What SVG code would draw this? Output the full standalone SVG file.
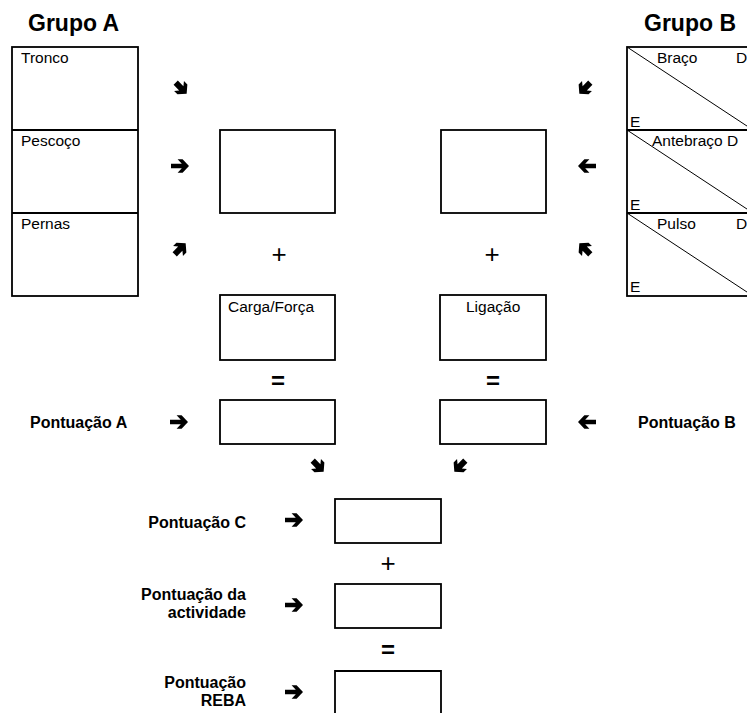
<svg xmlns="http://www.w3.org/2000/svg" width="747" height="713" viewBox="0 0 747 713">
<defs>
<style>
.box{fill:#fff;stroke:#000;stroke-width:1.8}
.ln{fill:none;stroke:#000;stroke-width:1}
.dv{fill:none;stroke:#000;stroke-width:1.8}
.t{font-family:"Liberation Sans",Arial,sans-serif;font-size:15.5px;fill:#000}
.h{font-family:"Liberation Sans",Arial,sans-serif;font-size:23px;font-weight:bold;fill:#000}
.b{font-family:"Liberation Sans",Arial,sans-serif;font-size:16px;font-weight:bold;fill:#000}
.op{font-family:"Liberation Sans",Arial,sans-serif;font-size:26px;fill:#000;text-anchor:middle}
.eq{font-family:"Liberation Sans",Arial,sans-serif;font-size:24px;font-weight:bold;fill:#000;text-anchor:middle}
.ar{fill:#000}
</style>
<path id="arr" class="ar" d="M-9,-2.2 H1.8 L-2.4,-6.8 H2.6 L9,0 L2.6,6.8 H-2.4 L1.8,2.2 H-9 Z"/>
<path id="darr" class="ar" d="M-7.5,-3 H0.4 L-2.8,-7 H2 L8,0 L2,7 H-2.8 L0.4,3 H-7.5 Z"/>
</defs>

<text class="h" x="28" y="31">Grupo A</text>
<text class="h" x="644" y="31">Grupo B</text>

<g id="grupoA">
<rect class="box" x="12" y="47" width="126" height="249"/>
<line class="dv" x1="12" y1="130" x2="138" y2="130"/>
<line class="dv" x1="12" y1="213" x2="138" y2="213"/>
<text class="t" x="21" y="63">Tronco</text>
<text class="t" x="21" y="146">Pescoço</text>
<text class="t" x="21" y="229">Pernas</text>
</g>

<g id="grupoB">
<rect class="box" x="627" y="47" width="126" height="249"/>
<line class="dv" x1="627" y1="130" x2="753" y2="130"/>
<line class="dv" x1="627" y1="213" x2="753" y2="213"/>
<line class="ln" x1="627" y1="47" x2="753" y2="130"/>
<line class="ln" x1="627" y1="130" x2="753" y2="213"/>
<line class="ln" x1="627" y1="213" x2="753" y2="296"/>
<text class="t" x="657" y="63">Braço</text>
<text class="t" x="736" y="63">D</text>
<text class="t" x="630" y="127">E</text>
<text class="t" x="652" y="146">Antebraço D</text>
<text class="t" x="630" y="210">E</text>
<text class="t" x="657" y="229">Pulso</text>
<text class="t" x="736" y="229">D</text>
<text class="t" x="630" y="292">E</text>
</g>

<g id="tabelaA"><rect class="box" x="220" y="130" width="115" height="83"/></g>
<g id="tabelaB"><rect class="box" x="441" y="130" width="105" height="83"/></g>

<g id="carga"><rect class="box" x="220" y="295" width="115" height="65"/><text class="t" x="228" y="312">Carga/Força</text></g>
<g id="ligacao"><rect class="box" x="440" y="295" width="106" height="65"/><text class="t" x="466" y="312">Ligação</text></g>

<g id="pontA"><rect class="box" x="220" y="400" width="115" height="44"/></g>
<g id="pontB"><rect class="box" x="440" y="400" width="106" height="44"/></g>

<g id="pontC"><rect class="box" x="335" y="499" width="106" height="44"/></g>
<g id="pontAct"><rect class="box" x="335" y="584" width="106" height="44"/></g>
<g id="pontREBA"><path class="box" d="M335,714 V671 H441 V714"/></g>

<g id="operators">
<text class="op" x="279" y="263">+</text>
<text class="op" x="492" y="263">+</text>
<text class="eq" x="278" y="389">=</text>
<text class="eq" x="493" y="389">=</text>
<text class="op" x="388" y="572">+</text>
<text class="eq" x="388" y="658">=</text>
</g>

<g id="labels">
<text class="b" x="30" y="428">Pontuação A</text>
<text class="b" x="638" y="428">Pontuação B</text>
<text class="b" x="246" y="528" text-anchor="end">Pontuação C</text>
<text class="b" x="246" y="600" text-anchor="end">Pontuação da</text>
<text class="b" x="246" y="618" text-anchor="end">actividade</text>
<text class="b" x="246" y="688" text-anchor="end">Pontuação</text>
<text class="b" x="246" y="706" text-anchor="end">REBA</text>
</g>

<g id="connectors">
<use href="#darr" transform="translate(181,88) rotate(45)"/>
<use href="#arr" transform="translate(180,166)"/>
<use href="#darr" transform="translate(180,249) rotate(-45)"/>
<use href="#darr" transform="translate(585,88) rotate(135)"/>
<use href="#arr" transform="translate(587,166) rotate(180)"/>
<use href="#darr" transform="translate(585,249) rotate(-135)"/>
<use href="#arr" transform="translate(179,422)"/>
<use href="#arr" transform="translate(587,422) rotate(180)"/>
<use href="#darr" transform="translate(318,466) rotate(45)"/>
<use href="#darr" transform="translate(460,466) rotate(135)"/>
<use href="#arr" transform="translate(294,520)"/>
<use href="#arr" transform="translate(294,605)"/>
<use href="#arr" transform="translate(294,692)"/>
</g>
</svg>
